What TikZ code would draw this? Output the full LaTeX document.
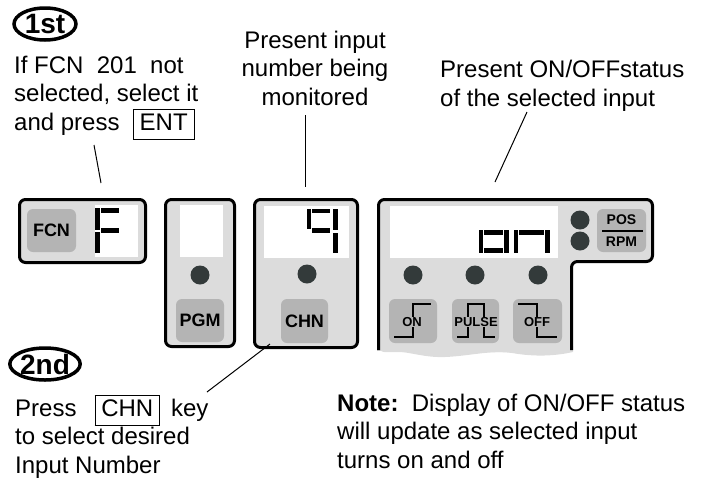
\documentclass[tikz,border=0pt]{standalone}
\usepackage{fontspec}
\setmainfont{Liberation Sans}
\usetikzlibrary{shapes.geometric}

\definecolor{panelgray}{HTML}{DCDCDC}
\definecolor{keygray}{HTML}{B4B4B4}
\definecolor{ledgray}{HTML}{333A3A}

\newcommand{\panelkey}[1]{{\setlength{\fboxsep}{0pt}\setlength{\fboxrule}{0.8pt}\fbox{\strut\hspace{6pt}#1\hspace{6pt}}}}

\tikzset{
  panel/.style={draw=black, line width=3pt, fill=panelgray, rounded corners=6pt},
  keybox/.style={fill=keygray, rounded corners=6pt, inner sep=0pt, font=\bfseries\fontsize{18}{20}\selectfont},
  smallkey/.style={fill=keygray, inner sep=0.5pt, font=\bfseries\fontsize{13}{14}\selectfont},
  lcd/.style={fill=white, inner sep=0pt},
  led/.style={circle, fill=ledgray, minimum size=19pt, inner sep=0pt},
  seg/.style={fill=black},
  wave/.style={line width=2pt},
  note/.style={font=\fontsize{24}{28.5}\selectfont, align=left, inner sep=0pt},
  stepmark/.style={draw, ellipse, line width=3.5pt, minimum width=62pt, minimum height=32pt,
    inner sep=0pt, font=\bfseries\fontsize{28}{28}\selectfont},
  leader/.style={line width=1pt}
}

\begin{document}
\begin{tikzpicture}[x=1pt,y=-1pt]
\useasboundingbox (0,0) rectangle (704,477);

% step labels and texts (anchored at the last line)
\node[stepmark] (first) at (45,24) {1st};
\node[note, anchor=base west] (firsttext) at (14,130)
  {If FCN\ \ 201\ \ not\\selected, select it\\and press\ \ \panelkey{ENT}};
\node[note, align=center, anchor=base] (inputtext) at (315,105)
  {Present input\\number being\\monitored};
\node[note, anchor=base west] (statustext) at (440,106)
  {Present ON/OFFstatus\\of the selected input};
\node[stepmark] (second) at (45,364) {2nd};
\node[note, anchor=base west] (secondtext) at (15,473)
  {Press\hspace{18pt}\panelkey{CHN}\hspace{11pt}key\\to select desired\\Input Number};
\node[note, anchor=base west] (notetext) at (337,468)
  {\textbf{Note:}\ \ Display of ON/OFF status\\will update as selected input\\turns on and off};

% FCN panel
\draw[panel] (19.5,199.5) rectangle (145.5,262.5);
\node[keybox, minimum width=49pt, minimum height=43pt] (fcn) at (51.5,230.5) {FCN};
\node[lcd, minimum width=43pt, minimum height=52pt] (fcnlcd) at (116.5,231) {};
\fill[seg] (95,208) rectangle (100,230);
\fill[seg] (95,232) rectangle (100,253);
\fill[seg] (101,208) rectangle (119,213);
\fill[seg] (101,228) rectangle (119,233);

% PGM panel
\draw[panel] (165.5,199.5) rectangle (234.5,346.5);
\node[lcd, minimum width=43pt, minimum height=52pt] (pgmlcd) at (201.5,231) {};
\node[led] (pgmled) at (200,275) {};
\node[keybox, minimum width=48pt, minimum height=43pt] (pgm) at (200,320.5) {PGM};

% CHN panel
\draw[panel] (254.5,199.5) rectangle (357.5,347.5);
\node[lcd, minimum width=85pt, minimum height=52pt] (chnlcd) at (306.5,232) {};
\fill[seg] (307,209) rectangle (311,229);
\fill[seg] (312,209) rectangle (330,213);
\fill[seg] (312,228) rectangle (330,233);
\fill[seg] (333,209) rectangle (338,230);
\fill[seg] (333,233) rectangle (338,253);
\node[led] (chnled) at (307,274) {};
\node[keybox, minimum width=47pt, minimum height=44pt] (chn) at (304.5,321) {CHN};

% input panel, torn at the bottom
\fill[panelgray, rounded corners=6pt] (378.5,352) -- (378.5,199.5) -- (652.5,199.5)
  -- (652.5,261.5) -- (571.5,261.5) -- (571.5,352) -- cycle;
\fill[panelgray] (377,346) -- (377,351) .. controls (405,349) and (420,358) .. (445,357)
  .. controls (470,356) and (490,350) .. (512,353) .. controls (535,357) and (555,356) .. (573,352)
  -- (573,346) -- cycle;
\draw[line width=3pt, rounded corners=6pt] (378.5,350) -- (378.5,199.5) -- (652.5,199.5)
  -- (652.5,261.5) -- (571.5,261.5) -- (571.5,350);
\node[lcd, minimum width=168pt, minimum height=52pt] (statlcd) at (474,232) {};
% "on"
\fill[seg] (479,230) rectangle (483,253);
\fill[seg] (484,230) rectangle (503,235);
\fill[seg] (484,248) rectangle (503,253);
\fill[seg] (504,230) rectangle (509,253);
\fill[seg] (514,230) rectangle (518,253);
\fill[seg] (519,230) rectangle (544,235);
\fill[seg] (545,230) rectangle (550,253);

\node[led] (posled) at (580,220) {};
\node[led] (rpmled) at (580,241) {};
\node[keybox, minimum width=49pt, minimum height=43pt] (posrpm) at (621.5,230.5) {};
\draw[line width=2pt] (602,231) -- (643,231);
\node[font=\bfseries\fontsize{14}{14}\selectfont] (pos) at (621.5,220) {POS};
\node[font=\bfseries\fontsize{14}{14}\selectfont] (rpm) at (621.5,242) {RPM};

\node[led] (onled) at (413,275) {};
\node[led] (pulseled) at (475,275) {};
\node[led] (offled) at (538,275) {};

\node[keybox, minimum width=48pt, minimum height=44pt] (onkey) at (413,321) {};
\node[keybox, minimum width=47pt, minimum height=44pt] (pulsekey) at (475.5,321) {};
\node[keybox, minimum width=49pt, minimum height=44pt] (offkey) at (537.5,321) {};
\draw[wave] (394,337) -- (413,337) -- (413,304) -- (431,304);
\draw[wave] (457,337) -- (468,337) -- (468,304) -- (484,304) -- (484,337) -- (495,337);
\draw[wave] (518,304) -- (537,304) -- (537,337) -- (557,337);
\node[smallkey] (on) at (412,322) {ON};
\node[smallkey] (pulse) at (476,322) {PULSE};
\node[smallkey] (off) at (537,322) {OFF};

% leaders
\coordinate (firsttip) at (94,145);
\coordinate (fcnend) at (101,183);
\coordinate (inputtip) at (305,115);
\coordinate (chnlcdend) at (305,187);
\coordinate (statustip) at (527,112);
\coordinate (statlcdend) at (495,182);
\coordinate (secondtip) at (207,392);
\coordinate (chnend) at (270,344);
\draw[leader] (firsttip) -- (fcnend);
\draw[leader] (inputtip) -- (chnlcdend);
\draw[leader] (statustip) -- (statlcdend);
\draw[leader] (secondtip) -- (chnend);
\end{tikzpicture}
\end{document}
